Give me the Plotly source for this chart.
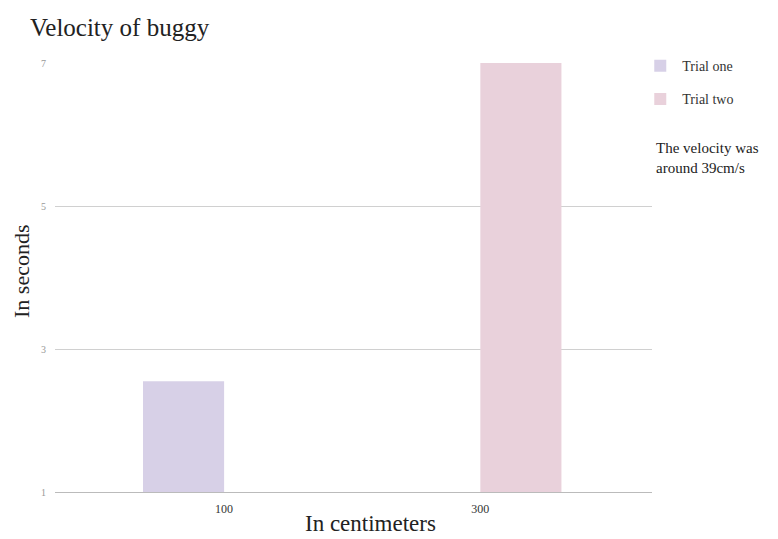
import plotly.graph_objects as go

categories = ["100", "300"]
trial_one = [2.55, None]
trial_two = [None, 7.0]
y_ticks = [1, 3, 5, 7]

SERIF = "Liberation Serif, DejaVu Serif, serif"
W, H = 778, 539
L, R, T, B = 55, 126, 63, 47
PW, PH = W - L - R, H - T - B


def px(x):
    return (x - L) / PW


def py(y):
    return (H - B - y) / PH


fig = go.Figure()
fig.add_trace(go.Bar(x=categories, y=trial_one, name="Trial one",
                     marker=dict(color="#d7d0e7", line=dict(width=0)),
                     legendgroup="a"))
fig.add_trace(go.Bar(x=categories, y=trial_two, name="Trial two",
                     marker=dict(color="#e9d1db", line=dict(width=0)),
                     legendgroup="b"))

fig.update_layout(
    width=W, height=H,
    margin=dict(l=L, r=R, t=T, b=B),
    paper_bgcolor="white", plot_bgcolor="white",
    barmode="group", bargap=0.367, bargroupgap=0,
    title=dict(text="Velocity of buggy", x=30/W, xanchor="left",
               y=1-27/H, yanchor="middle",
               font=dict(family=SERIF, size=25, color="#222")),
    legend=dict(x=0.977, y=1.03, xanchor="left", yanchor="top",
                font=dict(family=SERIF, size=14, color="#333"),
                tracegroupgap=12, itemwidth=34, traceorder="grouped"),
    xaxis=dict(type="category", range=[-0.66, 1.67], automargin=False,
               showgrid=False, showline=True, linecolor="#bbbbbb",
               ticks="", ticklabelstandoff=6,
               tickfont=dict(family=SERIF, size=12, color="#333333")),
    yaxis=dict(range=[1, 7], tickvals=y_ticks, showgrid=True, automargin=False,
               gridcolor="#d0d0d0", zeroline=False, ticks="",
               ticklabelstandoff=8,
               tickfont=dict(family=SERIF, size=10, color="#999")),
    annotations=[
        dict(text="The velocity was<br>around 39cm/s",
             xref="paper", yref="paper", x=px(654), y=py(138),
             xanchor="left", yanchor="top", align="left", showarrow=False,
             font=dict(family=SERIF, size=15, color="#222")),
        dict(text="In centimeters", xref="paper", yref="paper",
             x=px(370), y=py(523), xanchor="center", yanchor="middle",
             showarrow=False,
             font=dict(family=SERIF, size=23, color="#222")),
        dict(text="In seconds", xref="paper", yref="paper", textangle=-90,
             x=px(21), y=py(272), xanchor="center", yanchor="middle",
             showarrow=False,
             font=dict(family=SERIF, size=22, color="#222")),
    ],
)

fig.write_html("out.html")
